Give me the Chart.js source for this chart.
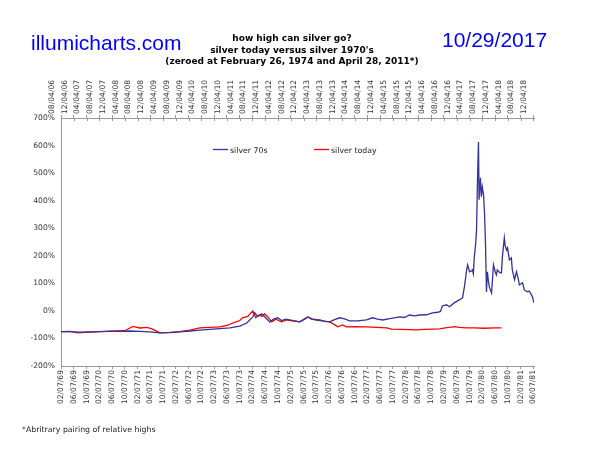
<!DOCTYPE html>
<html>
<head>
<meta charset="utf-8">
<script src="https://cdn.jsdelivr.net/npm/chart.js@4/dist/chart.umd.min.js"></script>
<style>
  body { margin: 0; background: #fff; }
  canvas { display: block; }
</style>
</head>
<body>
<canvas id="myChart" width="600" height="464"></canvas>
<script>
// x = months since 02/07/69 (bottom axis); top axis is the same span shifted to 2006-2018
const bottomLabels = ["02/07/69","06/07/69","10/07/69","02/07/70","06/07/70","10/07/70","02/07/71","06/07/71","10/07/71",
  "02/07/72","06/07/72","10/07/72","02/07/73","06/07/73","10/07/73","02/07/74","06/07/74","10/07/74",
  "02/07/75","06/07/75","10/07/75","02/07/76","06/07/76","10/07/76","02/07/77","06/07/77","10/07/77",
  "02/07/78","06/07/78","10/07/78","02/07/79","06/07/79","10/07/79","02/07/80","06/07/80","10/07/80",
  "02/07/81","06/07/81"];
const topLabels = ["08/04/06","12/04/06","04/04/07","08/04/07","12/04/07","04/04/08","08/04/08","12/04/08",
  "04/04/09","08/04/09","12/04/09","04/04/10","08/04/10","12/04/10","04/04/11","08/04/11","12/04/11",
  "04/04/12","08/04/12","12/04/12","04/04/13","08/04/13","12/04/13","04/04/14","08/04/14","12/04/14",
  "04/04/15","08/04/15","12/04/15","04/04/16","08/04/16","12/04/16","04/04/17","08/04/17","12/04/17",
  "04/04/18","08/04/18","12/04/18"];

const months70s = [0,2.8,5.9,9.1,12.2,15.3,18.5,21.6,24.7,27.8,31,34.1,37.2,40.4,43.5,46.6,49.7,52.9,56,58.2,
  60.1,60.7,61.6,62.9,64.1,65.4,66.6,67.9,69.1,70.4,71.7,73.2,74.8,76.3,77.3,78.5,80.1,82,84.2,85.7,
  87.3,88.9,90.4,92.9,95.7,97.6,99.2,100.8,103,106.1,107.6,109.2,110.8,112.3,114.5,116.4,118,118.9,119.5,120.8,
  121.7,123.3,124.8,125.8,126.4,127.1,127.4,127.7,128,128.6,128.9,129.2,129.5,129.9,130.2,130.5,130.8,131,131.3,131.4,
  131.7,132,132.4,132.7,133,133.3,133.6,133.9,134.2,134.9,135.5,136.1,136.4,136.7,137.4,138,138.3,138.9,139.2,139.6,
  139.9,140.5,141.1,141.4,142.1,142.7,143.3,143.6,144.6,145.2,146.1,146.7,147.4,147.7,148.2];
const silver70s = [-75,-75,-77,-76,-75,-74,-74,-73,-74,-76,-80,-79,-76,-73,-70,-67,-64,-62,-55,-44,
  -22,-7,-20,-11,-25,-40,-30,-25,-35,-30,-33,-36,-40,-30,-22,-30,-33,-36,-40,-32,
  -25,-29,-36,-36,-33,-25,-30,-33,-28,-22,-24,-15,-18,-15,-14,-7,-5,-2,18,22,
  15,30,40,47,87,149,167,155,142,145,149,135,196,240,294,475,613,403,470,483,
  414,450,420,355,247,69,142,110,87,65,167,140,131,149,140,138,196,265,235,221,
  229,185,192,149,113,142,115,94,102,76,69,72,58,51,29];

const monthsToday = [0,2.8,5.3,7.5,10.6,13.8,16.9,20,22.5,24.7,26.9,28.5,31,34.1,37.2,40.4,43.5,46.6,49.7,52.3,
  53.8,56,56.9,58.5,60.1,61,62,62.9,63.8,64.8,66,67.3,69.1,70.7,72.6,74.8,76.3,77.3,78.8,81,
  82.6,84.2,85.7,86.7,88.2,89.5,92,95.7,98.9,102,103.6,106.1,109.2,111.4,113.9,116.4,118.6,120.8,122.3,123.3,
  124.8,127.1,129.5,132.7,135.8,138];
const silverToday = [-75,-74,-80,-78,-76,-74,-73,-72,-56,-62,-60,-65,-80,-78,-75,-70,-62,-60,-58,-52,
  -44,-35,-25,-20,0,-25,-15,-20,-11,-22,-40,-30,-40,-33,-36,-40,-30,-22,-30,-33,
  -38,-40,-50,-58,-51,-58,-57,-58,-60,-62,-66,-67,-68,-69,-67,-66,-65,-61,-59,-57,
  -60,-62,-62,-63,-62,-62];

const toPoints = (xs, ys) => xs.map((x, i) => ({x: x, y: ys[i]}));
const tickFont = {family: 'DejaVu Sans', size: 7.6};

const textPlugin = {
  id: 'texts',
  afterDraw(chart) {
    const c = chart.ctx;
    c.save();
    c.fillStyle = '#0000ff';
    c.textBaseline = 'alphabetic';
    c.textAlign = 'left';
    c.font = '21px "Liberation Sans", Arial, sans-serif';
    c.fillText('illumicharts.com', 31, 50);
    c.fillText('10/29/2017', 442, 47);

    c.fillStyle = '#000';
    c.textAlign = 'center';
    c.font = 'bold 9px "DejaVu Sans", Verdana, sans-serif';
    c.fillText('how high can silver go?', 292, 41);
    c.fillText("silver today versus silver 1970's", 292, 52.5);
    c.fillText('(zeroed at February 26, 1974 and April 28, 2011*)', 292, 64);

    c.textAlign = 'left';
    c.font = '7.8px "DejaVu Sans", Verdana, sans-serif';
    c.fillStyle = '#222';
    c.fillText('*Abritrary pairing of relative highs', 22, 432);

    // legend
    const items = [[213, 230], [314, 331]];
    chart.data.datasets.forEach((ds, i) => {
      const [lx, tx] = items[i];
      c.strokeStyle = ds.borderColor;
      c.lineWidth = 1.3;
      c.beginPath();
      c.moveTo(lx, 149.5);
      c.lineTo(lx + 15, 149.5);
      c.stroke();
      c.fillStyle = '#222';
      c.fillText(ds.label, tx, 152.5);
    });

    // small cross ticks on the top axis, like the original
    const sx = chart.scales.x2, top = chart.chartArea.top;
    c.strokeStyle = '#999';
    c.lineWidth = 1;
    topLabels.forEach((l, i) => {
      const px = Math.round(sx.getPixelForValue(i * 4)) + 0.5;
      c.beginPath();
      c.moveTo(px, top);
      c.lineTo(px, top + 3);
      c.stroke();
    });
    c.restore();
  }
};

new Chart(document.getElementById('myChart').getContext('2d'), {
  type: 'line',
  data: {
    datasets: [{
      label: 'silver 70s',
      borderColor: 'rgb(51, 51, 153)',
      borderWidth: 1.3,
      pointRadius: 0,
      tension: 0,
      data: toPoints(months70s, silver70s)
    }, {
      label: 'silver today',
      borderColor: 'rgb(255, 0, 0)',
      borderWidth: 1.3,
      pointRadius: 0,
      tension: 0,
      data: toPoints(monthsToday, silverToday)
    }]
  },
  options: {
    responsive: false,
    animation: false,
    layout: {padding: {left: 0, right: 66, top: 0, bottom: 0}},
    plugins: {legend: {display: false}, tooltip: {enabled: false}},
    scales: {
      x: {
        type: 'linear', position: 'bottom', min: 0, max: 148.2,
        afterFit: s => { s.height = 98; },
        afterBuildTicks: s => { s.ticks = bottomLabels.map((l, i) => ({value: i * 4})); },
        ticks: {
          autoSkip: false, minRotation: 90, maxRotation: 90, padding: 1,
          color: '#333', font: tickFont,
          callback: (v, i) => bottomLabels[i]
        },
        grid: {drawOnChartArea: false, tickLength: 3, color: '#999'},
        border: {display: true, color: '#999'}
      },
      x2: {
        type: 'linear', position: 'top', min: 0, max: 148.2,
        afterFit: s => { s.height = 118; },
        afterBuildTicks: s => { s.ticks = topLabels.map((l, i) => ({value: i * 4})); },
        ticks: {
          autoSkip: false, minRotation: 90, maxRotation: 90, padding: 1,
          color: '#333', font: tickFont,
          callback: (v, i) => topLabels[i]
        },
        grid: {drawOnChartArea: false, tickLength: 3, color: '#999'},
        border: {display: true, color: '#999'}
      },
      y: {
        min: -200, max: 700,
        afterFit: s => { s.width = 61; },
        ticks: {stepSize: 100, color: '#333', font: tickFont, padding: 6, callback: v => v + '%'},
        grid: {drawOnChartArea: false, tickLength: 0, color: '#999'},
        border: {display: true, color: '#999'}
      }
    }
  },
  plugins: [textPlugin]
});
</script>
</body>
</html>
